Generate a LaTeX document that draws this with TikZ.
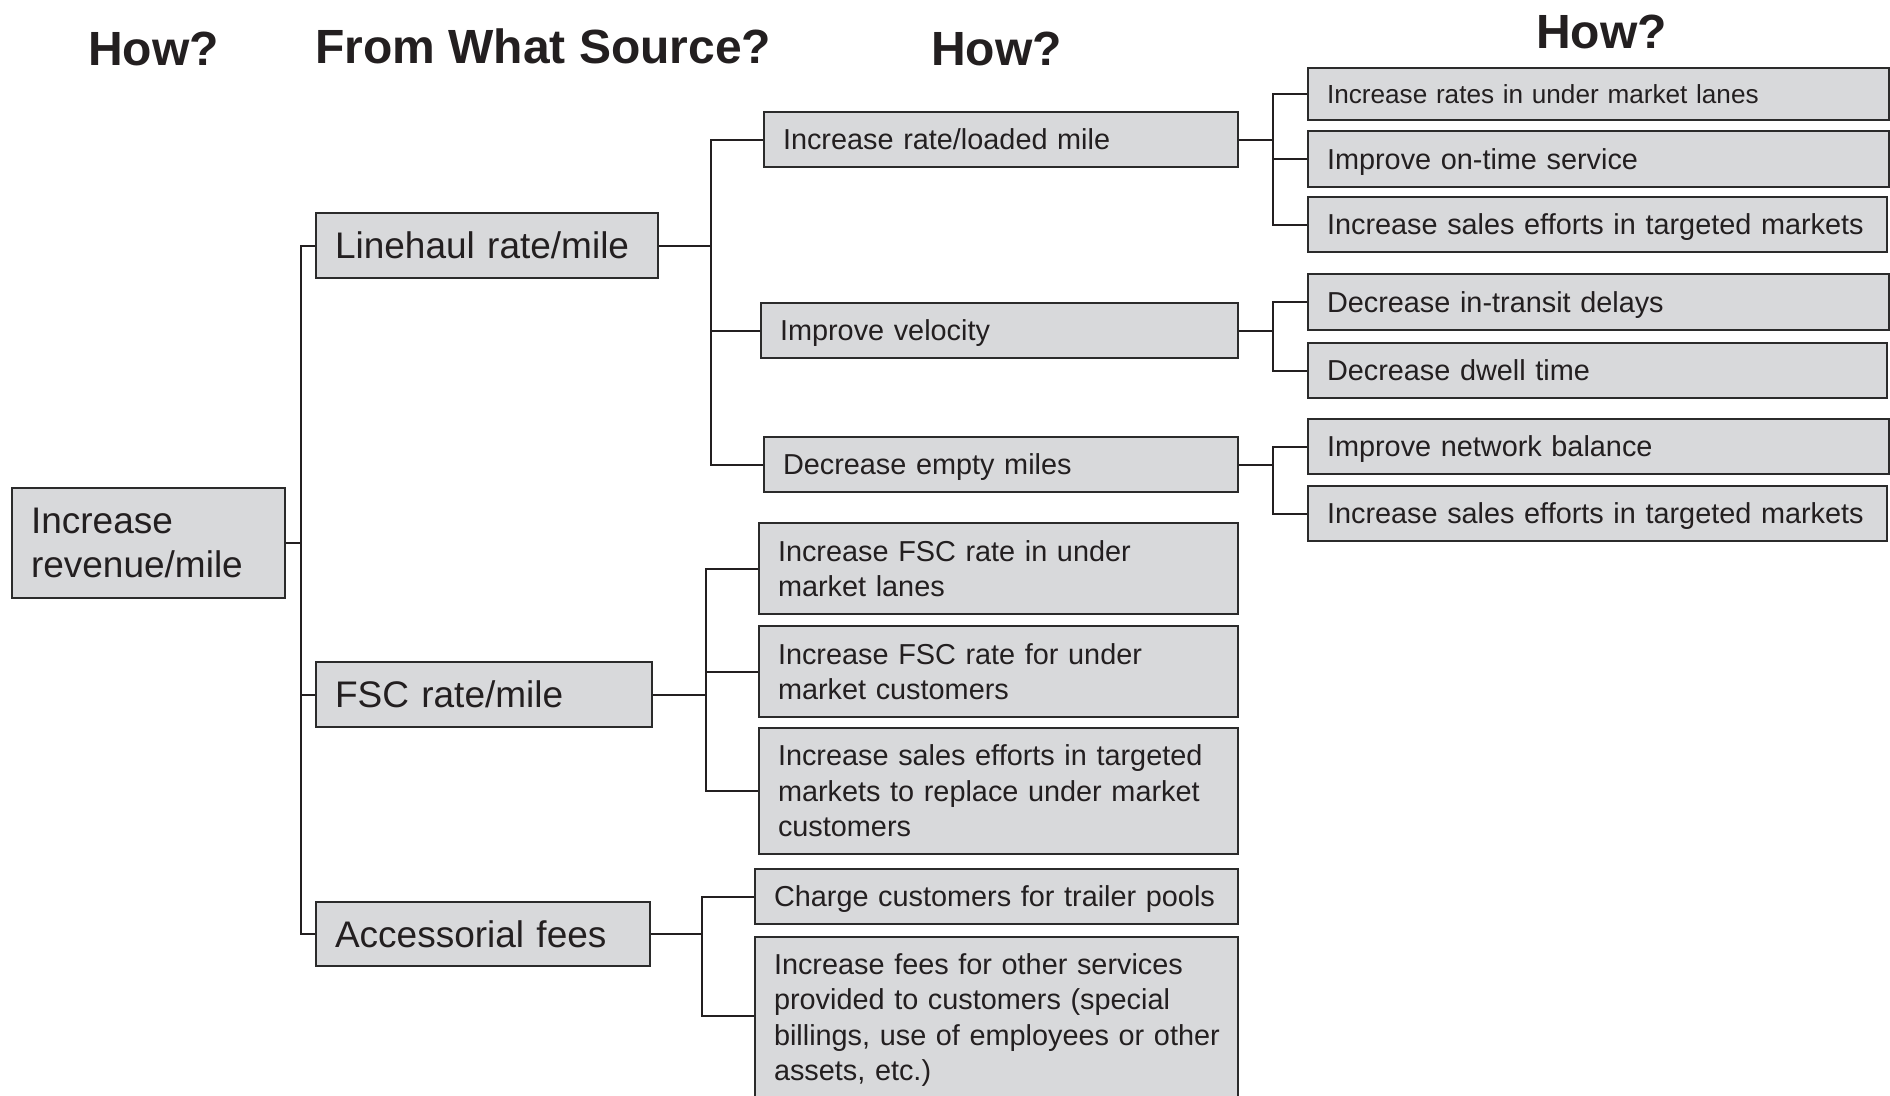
\documentclass[tikz,border=0pt]{standalone}
\usepackage{fontspec}
\setmainfont{Liberation Sans}
\definecolor{boxfill}{HTML}{D8D9DB}
\definecolor{boxline}{HTML}{2B2B2B}
\definecolor{ink}{HTML}{231F20}
\begin{document}
\begin{tikzpicture}[x=1pt,y=-1pt,
  bx/.style={draw=boxline, fill=boxfill, line width=2pt, inner xsep=19pt, inner ysep=0pt, align=left, anchor=center, text=ink},
  one/.style={text depth=0pt},
  big/.style={font=\fontsize{37.0}{44.6}\selectfont},
  mid/.style={font=\fontsize{28.85}{35.6}\selectfont},
  small/.style={font=\fontsize{26.15}{32}\selectfont},
  ttl/.style={font=\fontsize{48}{57}\selectfont\bfseries, anchor=base west, inner sep=0pt, text=ink},
  conn/.style={draw=ink, line width=2pt}
]
\useasboundingbox (0,0) rectangle (1890,1095);
\clip (0,0) rectangle (1890,1095);

% titles
\node[ttl] (t1) at (88,65) {How?};
\node[ttl] (t2) at (315,63) {From What Source?};
\node[ttl] (t3) at (931,65) {How?};
\node[ttl] (t4) at (1536,48) {How?};

% level 1
\node[bx,big,text width=235pt,minimum height=110pt] (root) at (148.5,543) {\mbox{Increase}\\\mbox{revenue/mile}};

% level 2
\node[bx,big,one,text width=304pt,minimum height=65pt] (lh) at (487,245.5) {\mbox{Linehaul rate/mile}};
\node[bx,big,one,text width=298pt,minimum height=65pt] (fsc) at (484,694.5) {\mbox{FSC rate/mile}};
\node[bx,big,one,text width=296pt,minimum height=64pt] (acc) at (483,934) {\mbox{Accessorial fees}};

% level 3
\node[bx,mid,one,text width=436pt,minimum height=55pt] (irlm) at (1001,139.5) {\mbox{Increase rate/loaded mile}};
\node[bx,mid,one,text width=439pt,minimum height=55pt] (vel) at (999.5,330.5) {\mbox{Improve velocity}};
\node[bx,mid,one,text width=436pt,minimum height=55pt] (dem) at (1001,464.5) {\mbox{Decrease empty miles}};
\node[bx,mid,text width=441pt,minimum height=91pt] (f1) at (998.5,568.5) {\mbox{Increase FSC rate in under}\\\mbox{market lanes}};
\node[bx,mid,text width=441pt,minimum height=91pt] (f2) at (998.5,671.5) {\mbox{Increase FSC rate for under}\\\mbox{market customers}};
\node[bx,mid,text width=441pt,minimum height=126pt] (f3) at (998.5,791) {\mbox{Increase sales efforts in targeted}\\\mbox{markets to replace under market}\\\mbox{customers}};
\node[bx,mid,one,text width=445pt,minimum height=55pt] (chg) at (996.5,896.5) {\mbox{Charge customers for trailer pools}};
\node[bx,mid,text width=445pt,minimum height=166pt] (fees) at (996.5,1020) {\mbox{Increase fees for other services}\\\mbox{provided to customers (special}\\\mbox{billings, use of employees or other}\\\mbox{assets, etc.)}};
\coordinate (feesin) at ([yshift=4pt]fees.west);

% level 4
\node[bx,small,one,text width=543pt,minimum height=52pt] (r1) at (1598.5,94) {\mbox{Increase rates in under market lanes}};
\node[bx,mid,one,text width=543pt,minimum height=56pt] (r2) at (1598.5,159) {\mbox{Improve on-time service}};
\node[bx,mid,one,text width=541pt,minimum height=55pt] (r3) at (1597.5,224.5) {\mbox{Increase sales efforts in targeted markets}};
\node[bx,mid,one,text width=543pt,minimum height=56pt] (r4) at (1598.5,302) {\mbox{Decrease in-transit delays}};
\node[bx,mid,one,text width=541pt,minimum height=55pt] (r5) at (1597.5,370.5) {\mbox{Decrease dwell time}};
\node[bx,mid,one,text width=543pt,minimum height=55pt] (r6) at (1598.5,446.5) {\mbox{Improve network balance}};
\node[bx,mid,one,text width=541pt,minimum height=55pt] (r7) at (1597.5,513.5) {\mbox{Increase sales efforts in targeted markets}};

% bus coordinates
\coordinate (b1) at (301,0);
\coordinate (b2a) at (711,0);
\coordinate (b2b) at (706,0);
\coordinate (b2c) at (702,0);
\coordinate (b3) at (1273,0);

% level 1 -> 2
\draw[conn] (root.east) -- (root.east -| b1);
\draw[conn] (lh.west) -- (lh.west -| b1) -- (acc.west -| b1) -- (acc.west);
\draw[conn] (fsc.west) -- (fsc.west -| b1);

% level 2 -> 3
\draw[conn] (lh.east) -- (lh.east -| b2a);
\draw[conn] (irlm.west) -- (irlm.west -| b2a) -- (dem.west -| b2a) -- (dem.west);
\draw[conn] (vel.west) -- (vel.west -| b2a);

\draw[conn] (fsc.east) -- (fsc.east -| b2b);
\draw[conn] (f1.west) -- (f1.west -| b2b) -- (f3.west -| b2b) -- (f3.west);
\draw[conn] (f2.west) -- (f2.west -| b2b);

\draw[conn] (acc.east) -- (acc.east -| b2c);
\draw[conn] (chg.west) -- (chg.west -| b2c) -- (feesin -| b2c) -- (feesin);

% level 3 -> 4
\draw[conn] (irlm.east) -- (irlm.east -| b3);
\draw[conn] (r1.west) -- (r1.west -| b3) -- (r3.west -| b3) -- (r3.west);
\draw[conn] (r2.west) -- (r2.west -| b3);

\draw[conn] (vel.east) -- (vel.east -| b3);
\draw[conn] (r4.west) -- (r4.west -| b3) -- (r5.west -| b3) -- (r5.west);

\draw[conn] (dem.east) -- (dem.east -| b3);
\draw[conn] (r6.west) -- (r6.west -| b3) -- (r7.west -| b3) -- (r7.west);
\end{tikzpicture}
\end{document}
